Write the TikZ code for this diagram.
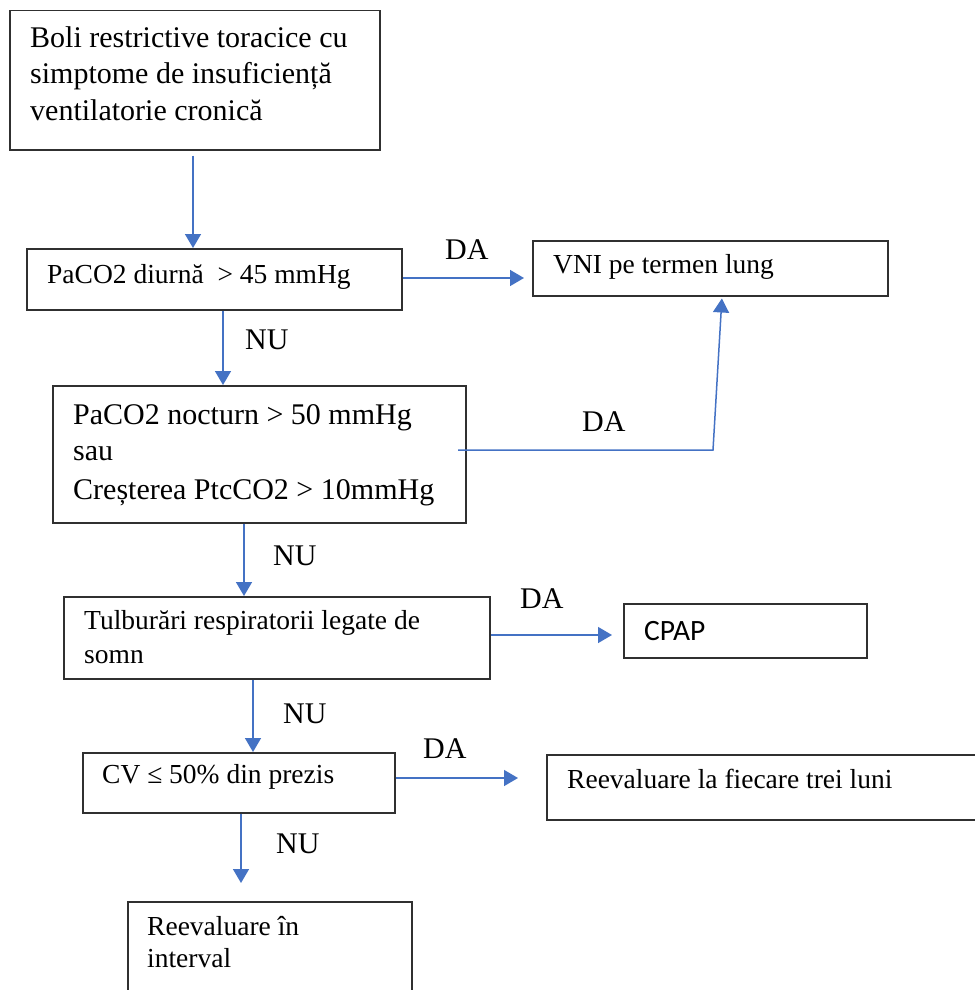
\documentclass[tikz,border=0pt]{standalone}
\usepackage{fontspec}
\setmainfont{Liberation Serif}
\newfontfamily\cpapfont{Carlito}
\usetikzlibrary{arrows.meta,calc}
\definecolor{arrblue}{HTML}{4472C4}
\definecolor{boxgray}{HTML}{303030}
\begin{document}
\begin{tikzpicture}[x=1pt,y=-1pt,
  box/.style={draw=boxgray, line width=1.5pt, rectangle, inner sep=0pt, anchor=north west},
  txt/.style={anchor=base west, inner sep=0pt, font=\fontsize{27.5}{33}\selectfont},
  bigtxt/.style={anchor=base west, inner sep=0pt, font=\fontsize{30}{36}\selectfont},
  lbl/.style={anchor=base west, inner sep=0pt, font=\fontsize{30}{36}\selectfont},
  arr/.style={draw=arrblue, line width=1.5pt, -{Triangle[length=14pt,width=16pt]}},
]
\useasboundingbox (0,0) rectangle (974,990);
% boxes
\node[box, minimum width=370pt, minimum height=139pt] (b1) at (9,10) {};
\node[box, minimum width=375pt, minimum height=61pt] (b2) at (26,248) {};
\node[box, minimum width=355pt, minimum height=55pt] (vni) at (532,240) {};
\node[box, minimum width=413pt, minimum height=137pt] (b3) at (52,385) {};
\node[box, minimum width=426pt, minimum height=82pt] (b4) at (63,596) {};
\node[box, minimum width=243pt, minimum height=54pt] (cpap) at (623,603) {};
\node[box, minimum width=312pt, minimum height=60pt] (b5) at (82,752) {};
\node[box, minimum width=440pt, minimum height=65pt] (reev) at (546,754) {};
\node[box, minimum width=284pt, minimum height=100pt] (b6) at (127,901) {};
% texts
\node[bigtxt] (t1a) at (30,48) {Boli restrictive toracice cu};
\node[bigtxt] (t1b) at (30,84) {simptome de insuficiență};
\node[bigtxt] (t1c) at (30,120) {ventilatorie cronică};
\node[txt] (t2) at (47,283) {PaCO2 diurnă \ > 45 mmHg};
\node[txt] (tvni) at (553,273) {VNI pe termen lung};
\node[bigtxt] (t3a) at (73,424) {PaCO2 nocturn > 50 mmHg};
\node[bigtxt] (t3b) at (73,460) {sau};
\node[bigtxt] (t3c) at (73,499) {Creșterea PtcCO2 > 10mmHg};
\node[txt] (t4a) at (84,629) {Tulburări respiratorii legate de};
\node[txt] (t4b) at (84,663) {somn};
\node[anchor=base west, inner sep=0pt, font=\cpapfont\fontsize{29.5}{35}\selectfont] (tcpap) at (644,640) {CPAP};
\node[txt] (t5) at (102,783) {CV ≤ 50\% din prezis};
\node[txt] (treev) at (567,788) {Reevaluare la fiecare trei luni};
\node[txt] (t6a) at (147,935) {Reevaluare în};
\node[txt] (t6b) at (147,967) {interval};
% labels
\node[lbl] (l1) at (445,259) {DA};
\node[lbl] (l2) at (245,349) {NU};
\node[lbl] (l3) at (582,431) {DA};
\node[lbl] (l4) at (273,565) {NU};
\node[lbl] (l5) at (520,608) {DA};
\node[lbl] (l6) at (283,723) {NU};
\node[lbl] (l7) at (423,758) {DA};
\node[lbl] (l8) at (276,853) {NU};
% helper coordinates
\coordinate (x1) at (193,0);
\coordinate (x4) at (223,0);
\coordinate (x5) at (244,0);
\coordinate (x7) at (253,0);
\coordinate (x9) at (241,0);
\coordinate (y2) at (0,278);
\coordinate (y6) at (0,635);
\coordinate (y8) at (0,778);
\coordinate (s3) at (458,450);
\coordinate (c3) at (713,450);
\coordinate (t3) at (722,0);
% arrows
\draw[arr, shorten <=5pt] (b1.south -| x1) -- (b2.north -| x1);
\draw[arr, shorten >=8pt] (b2.east |- y2) -- (vni.west |- y2);
\draw[arr, shorten >=2pt] (s3) -- (c3) -- (vni.south -| t3);
\draw[arr] (b2.south -| x4) -- (b3.north -| x4);
\draw[arr] (b3.south -| x5) -- (b4.north -| x5);
\draw[arr, shorten >=11pt] (b4.east |- y6) -- (cpap.west |- y6);
\draw[arr] (b4.south -| x7) -- (b5.north -| x7);
\draw[arr, shorten >=28pt] (b5.east |- y8) -- (reev.west |- y8);
\draw[arr, shorten >=18pt] (b5.south -| x9) -- (b6.north -| x9);
\end{tikzpicture}
\end{document}
